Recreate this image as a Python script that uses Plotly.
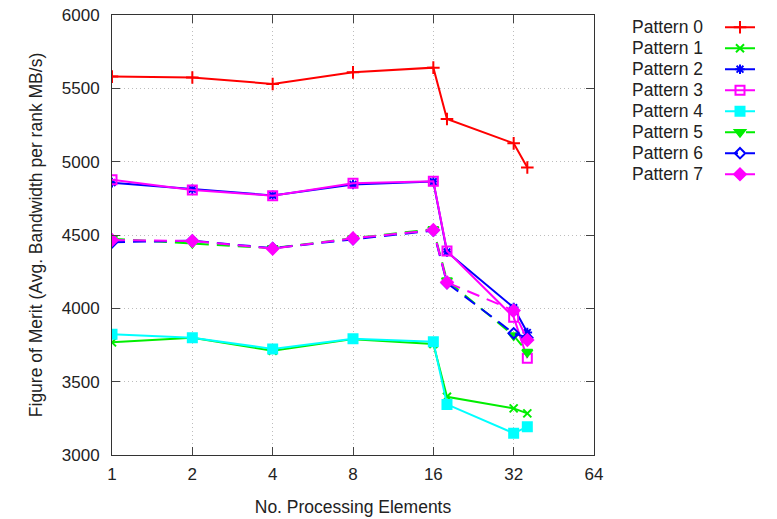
import plotly.graph_objects as go

x_vals = [1, 2, 4, 8, 16, 18, 32, 36]
names = ["Pattern 0", "Pattern 1", "Pattern 2", "Pattern 3",
         "Pattern 4", "Pattern 5", "Pattern 6", "Pattern 7"]
p0 = [5580, 5574, 5530, 5609, 5641, 5291, 5125, 4960]
p1 = [3768, 3800, 3711, 3790, 3757, 3397, 3318, 3284]
p2 = [4857, 4812, 4770, 4845, 4864, 4385, 4005, 3835]
p3 = [4877, 4807, 4768, 4853, 4866, 4391, 3940, 3660]
p4 = [3823, 3800, 3723, 3793, 3773, 3345, 3148, 3193]
p5 = [4475, 4445, 4410, 4478, 4540, 4190, 3815, 3702]
p6 = [4450, 4462, 4410, 4472, 4530, 4172, 3830, 3800]
p7 = [4466, 4459, 4407, 4477, 4534, 4177, 3985, 3784]
series = [p0, p1, p2, p3, p4, p5, p6, p7]
x_ticks = [1, 2, 4, 8, 16, 32, 64]
y_ticks = [3000, 3500, 4000, 4500, 5000, 5500, 6000]

colors = ["#ff0000", "#00ee00", "#0000ff", "#ff00ff", "#00ffff", "#00ee00", "#0000ff", "#ff00ff"]
symbols = ["cross-thin-open", "x-thin-open", "asterisk-open", "square-open",
           "square", "triangle-down", "diamond-open", "diamond"]
dashes = ["solid"] * 5 + ["13px,8px"] * 3
msizes = [9, 8, 8, 9, 9, 9, 8, 9]

fig = go.Figure()
for i, (nm, ys) in enumerate(zip(names, series)):
    fig.add_trace(go.Scatter(
        x=x_vals, y=ys, mode="lines+markers", name="\u00a0",
        hovertemplate=nm + ": %{y}<extra></extra>",
        line=dict(color=colors[i], width=2, dash=dashes[i]),
        marker=dict(symbol=symbols[i], size=msizes[i], color=colors[i],
                    line=dict(color=colors[i], width=2)),
    ))

# the page body has an 8px margin, so figure coords = page coords - 8
OFF = 8
W, H = 777 - OFF, 519 - OFF
FS = 17.5
L, T = 112 - OFF, 15 - OFF
R = W - (594 - OFF)
B = H - (455 - OFF)
pw, ph = W - L - R, H - T - B
row0 = 26.7 - OFF
rowgap = 21.0
for i, nm in enumerate(names):
    ypx = row0 + i * rowgap
    fig.add_annotation(text=nm, xref="paper", yref="paper",
                       x=(705 - OFF - L) / pw, y=(H - B - ypx) / ph,
                       xanchor="right", yanchor="middle", showarrow=False,
                       font=dict(size=FS, color="#222222"))

axis_common = dict(showline=True, linecolor="#333333", linewidth=1, mirror="ticks",
                   ticks="inside", ticklen=8, tickcolor="#444444",
                   showgrid=True, gridcolor="#bdbdbd", griddash="1px,3px", gridwidth=1,
                   zeroline=False, automargin=False, ticklabeloverflow="allow",
                   tickfont=dict(size=17, color="#222222"))

fig.update_xaxes(type="log", range=[0, 1.80618], tickvals=x_ticks,
                 ticktext=[str(v) for v in x_ticks], ticklabelstandoff=4,
                 title=dict(text="No. Processing Elements", font=dict(size=FS, color="#222222"), standoff=17),
                 **axis_common)
fig.update_yaxes(range=[3000, 6000], tickvals=y_ticks, ticklabelstandoff=8,
                 title=dict(text="Figure of Merit (Avg. Bandwidth per rank MB/s)", font=dict(size=FS, color="#222222"), standoff=14),
                 **axis_common)

# legend row height = font*1.3 + 3 -> 21 px per row
leg_font = (rowgap - 3) / 1.3
fig.update_layout(
    width=W, height=H,
    margin=dict(l=L, r=R, t=T, b=B, pad=0, autoexpand=False),
    paper_bgcolor="white", plot_bgcolor="white",
    font=dict(family="Liberation Sans, Arial, sans-serif", size=FS, color="#222222"),
    showlegend=True,
    legend=dict(x=(720 - OFF - L) / pw, y=(H - B - (row0 - 15)) / ph, xanchor="left", yanchor="top",
                font=dict(size=leg_font), tracegroupgap=0, bgcolor="rgba(0,0,0,0)",
                itemwidth=30, traceorder="normal"),
)

fig.write_html("out.html")
